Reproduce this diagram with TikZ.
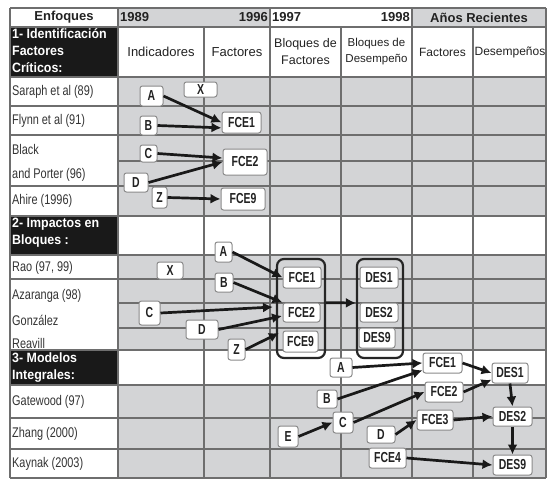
\documentclass[tikz,border=0pt]{standalone}
\usepackage{fontspec}
\setmainfont{Liberation Sans}
\newfontfamily\narrowf[FakeStretch=0.78]{Liberation Sans}
\newfontfamily\boxf[FakeStretch=0.72]{Liberation Sans}
\newfontfamily\secf[FakeStretch=0.92]{Liberation Sans}
\usetikzlibrary{arrows.meta}
\definecolor{cellgray}{HTML}{D3D4D6}
\definecolor{gridc}{HTML}{6E6E6E}
\definecolor{boxc}{HTML}{8A8A8A}
\definecolor{txt}{HTML}{222222}
\definecolor{nametxt}{HTML}{333333}
\begin{document}
\begin{tikzpicture}[x=1pt,y=-1pt,
  gridline/.style={draw=gridc,line width=1.3pt},
  lbl/.style={inner sep=0pt,text=txt,font=\fontsize{13}{13}\selectfont},
  hdr/.style={inner sep=0pt,text=txt,font=\bfseries\fontsize{13}{13}\selectfont},
  sechdr/.style={inner sep=0pt,anchor=north west,align=left,text=white,font=\secf\bfseries\fontsize{13.5}{17}\selectfont},
  namelbl/.style={inner sep=0pt,anchor=west,text=nametxt,font=\narrowf\fontsize{14}{14}\selectfont},
  box/.style={draw=boxc,fill=white,rounded corners=2.5pt,line width=1pt,inner sep=0pt,text=txt,font=\boxf\bfseries\fontsize{14.5}{14.5}\selectfont},
  blk/.style={draw=black!85,rounded corners=7pt,line width=2.2pt,inner sep=0pt},
  arr/.style={draw=black!90,line width=2.7pt,-{Latex[length=10pt,width=10pt]}}
]
\useasboundingbox (0,0) rectangle (547,479);
% fills
\fill[cellgray] (118,8) rectangle (270,27);
\fill[cellgray] (412,8) rectangle (546,27);
\fill[cellgray] (118,77) rectangle (546,216);
\fill[cellgray] (118,255) rectangle (546,350);
\fill[cellgray] (118,385) rectangle (546,478);
\fill[black!90] (10,27) rectangle (118,77);
\fill[black!90] (10,216) rectangle (118,255);
\fill[black!90] (10,350) rectangle (118,385);
% grid
\foreach \yy in {8,27,77,106,135,186,216,255,279,350,385,418,449,478}
  \draw[gridline] (10,\yy) -- (546,\yy);
\foreach \yy in {161,303,328}
  \draw[gridline] (118,\yy) -- (546,\yy);
\foreach \xx in {10,118,270,412,546}
  \draw[gridline] (\xx,8) -- (\xx,478);
\foreach \xx in {204,341,473}
  \draw[gridline] (\xx,27) -- (\xx,478);
% header row
\node[hdr] (henf) at (64,17.5) {Enfoques};
\node[hdr,anchor=west] (h89) at (120,17.5) {1989};
\node[hdr,anchor=east] (h96) at (268,17.5) {1996};
\node[hdr,anchor=west] (h97) at (272,17.5) {1997};
\node[hdr,anchor=east] (h98) at (410,17.5) {1998};
\node[hdr] (hrec) at (479,17.5) {Años Recientes};
% column titles
\node[lbl] (tind) at (161,52) {Indicadores};
\node[lbl] (tfac) at (237,52) {Factores};
\node[lbl,align=center,font=\fontsize{12.5}{17}\selectfont] (tbf) at (305.5,52) {Bloques de\\Factores};
\node[lbl,align=center,font=\fontsize{11.5}{16}\selectfont] (tbd) at (376.5,52) {Bloques de\\Desempeño};
\node[lbl,font=\fontsize{12}{12}\selectfont] (tfac2) at (442.5,52) {Factores};
\node[lbl,font=\fontsize{12}{12}\selectfont] (tdes) at (510,52) {Desempeños};
% section headers
\node[sechdr] (s1) at (12,28.5) {1- Identificación\\Factores\\Críticos:};
\node[sechdr] (s2) at (12,217.5) {2- Impactos en\\Bloques :};
\node[sechdr] (s3) at (12,352.5) {3- Modelos\\Integrales:};
% names
\node[namelbl] (n1) at (12,92) {Saraph et al (89)};
\node[namelbl] (n2) at (12,121) {Flynn et al (91)};
\node[namelbl] (n3) at (12,149) {Black};
\node[namelbl] (n4) at (12,175) {and Porter (96)};
\node[namelbl] (n5) at (12,201) {Ahire (1996)};
\node[namelbl] (n6) at (12,268) {Rao (97, 99)};
\node[namelbl] (n7) at (12,296) {Azaranga (98)};
\node[namelbl] (n8) at (12,320) {González};
\node[namelbl] (n9) at (12,343) {Reavill};
\node[namelbl] (n10) at (12,402) {Gatewood (97)};
\node[namelbl] (n11) at (12,434) {Zhang (2000)};
\node[namelbl] (n12) at (12,464) {Kaynak (2003)};
% section 1 boxes
\node[box,minimum width=23pt,minimum height=20pt] (a1) at (151.5,96) {A};
\node[box,minimum width=33pt,minimum height=15pt] (x1) at (200.5,89.5) {X};
\node[box,minimum width=17pt,minimum height=19pt] (b1) at (148.5,125.5) {B};
\node[box,minimum width=39pt,minimum height=21pt] (f11) at (241.5,122.5) {FCE1};
\node[box,minimum width=17pt,minimum height=17pt] (c1) at (148.5,153.5) {C};
\node[box,minimum width=44pt,minimum height=26pt] (f12) at (245,162) {FCE2};
\node[box,minimum width=24pt,minimum height=19pt] (d1) at (136,182.5) {D};
\node[box,minimum width=15pt,minimum height=21pt] (z1) at (159.5,197.5) {Z};
\node[box,minimum width=44pt,minimum height=22pt] (f19) at (243,199) {FCE9};
\draw[arr] (a1.east) -- (f11.west);
\draw[arr] (b1.east) -- (f11.195);
\draw[arr] (c1.east) -- (f12.170);
\draw[arr] (d1.east) -- (f12.west);
\draw[arr] (z1.east) -- (f19.west);
% section 2
\node[blk,minimum width=48pt,minimum height=99pt] (r1) at (301,308.5) {};
\node[blk,minimum width=46pt,minimum height=99pt] (r2) at (380,308.5) {};
\node[box,minimum width=17pt,minimum height=20pt] (a2) at (223.5,252) {A};
\node[box,minimum width=26pt,minimum height=17pt] (x2) at (170,270.5) {X};
\node[box,minimum width=18pt,minimum height=19pt] (b2) at (224,282.5) {B};
\node[box,minimum width=21pt,minimum height=24pt] (c2) at (149.5,313) {C};
\node[box,minimum width=32pt,minimum height=19pt] (d2) at (202,329.5) {D};
\node[box,minimum width=17pt,minimum height=21pt] (z2) at (236.5,349.5) {Z};
\node[box,minimum width=38pt,minimum height=21pt] (f21) at (302,277.5) {FCE1};
\node[box,minimum width=37pt,minimum height=19pt] (f22) at (301.5,312.5) {FCE2};
\node[box,minimum width=35pt,minimum height=21pt] (f29) at (300.5,341.5) {FCE9};
\node[box,minimum width=38pt,minimum height=21pt] (e21) at (379,277.5) {DES1};
\node[box,minimum width=38pt,minimum height=19pt] (e22) at (379,312.5) {DES2};
\node[box,minimum width=36pt,minimum height=20pt] (e29) at (377,338) {DES9};
\coordinate (tc2) at (273,307);
\coordinate (td2) at (282,316);
\coordinate (tz2) at (279,333);
\draw[arr] (a2.east) -- (f21.west);
\draw[arr] (b2.east) -- (f22.north west);
\draw[arr] (c2.east) -- (tc2);
\draw[arr] (d2.east) -- (td2);
\draw[arr] (z2.east) -- (tz2);
\draw[arr] (r1.13) -- (r2.167);
% section 3
\node[box,minimum width=22pt,minimum height=19pt] (a3) at (341,367.5) {A};
\node[box,minimum width=39pt,minimum height=20pt] (f31) at (442.5,363) {FCE1};
\node[box,minimum width=36pt,minimum height=20pt] (e31) at (510,373) {DES1};
\node[box,minimum width=20pt,minimum height=18pt] (b3) at (327,399) {B};
\node[box,minimum width=38pt,minimum height=20pt] (f32) at (444,392) {FCE2};
\node[box,minimum width=20pt,minimum height=21pt] (c3) at (343,422.5) {C};
\node[box,minimum width=20pt,minimum height=21pt] (e3) at (288,436.5) {E};
\node[box,minimum width=28pt,minimum height=17pt] (d3) at (381,434.5) {D};
\node[box,minimum width=36pt,minimum height=20pt] (f33) at (435,420) {FCE3};
\node[box,minimum width=39pt,minimum height=19pt] (e32) at (512.5,416.5) {DES2};
\node[box,minimum width=37pt,minimum height=20pt] (f34) at (387.5,458) {FCE4};
\node[box,minimum width=39pt,minimum height=20pt] (e39) at (512.5,465) {DES9};
\draw[arr] (a3.east) -- (f31.west);
\draw[arr] (b3.east) -- (f31.200);
\draw[arr] (c3.east) -- (f32.west);
\draw[arr] (e3.east) -- (c3.west);
\draw[arr] (d3.east) -- (f33.west);
\draw[arr] (f31.east) -- (e31.west);
\draw[arr] (f32.east) -- (e31.200);
\draw[arr] (f33.east) -- (e32.west);
\draw[arr] (e31.south) -- (e32.north);
\draw[arr] (e32.south) -- (e39.north);
\draw[arr] (f34.east) -- (e39.west);
\end{tikzpicture}
\end{document}
